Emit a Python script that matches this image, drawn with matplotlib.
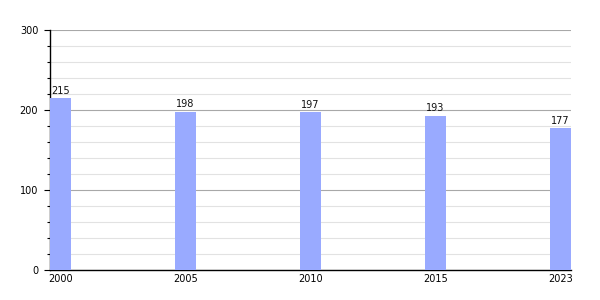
import matplotlib
matplotlib.use("Agg")
import matplotlib.pyplot as plt
import numpy as np

years = ["2000", "2005", "2010", "2015", "2023"]
values = [215, 198, 197, 193, 177]

fig = plt.figure(figsize=(6, 3), dpi=100)
ax = fig.add_axes([50/600, 0.1, 521/600, 0.8])

x = np.arange(len(years))
w = 0.168
bars = ax.bar(x, values, width=w, align="edge", color="#99aaff", zorder=3)
for xi, v in zip(x, values):
    ax.text(xi + w/2, v + 3, str(v), ha="center", va="bottom", fontsize=7, color="#111111", zorder=4)

ax.set_xlim(0, len(years) - 1 + w)
ax.set_ylim(0, 300)
ax.set_xticks(x + w/2)
ax.set_xticklabels(years, fontsize=7)
ax.set_yticks([0, 100, 200, 300])
ax.set_yticks(np.arange(0, 301, 20), minor=True)
ax.tick_params(axis="y", which="major", labelsize=7, length=4.5, width=0.8, direction="out", pad=4)
ax.tick_params(axis="y", which="minor", length=2, width=0.8, direction="out")
ax.tick_params(axis="x", length=0, pad=3)
ax.grid(axis="y", which="major", color="#a8a8a8", linewidth=0.8, zorder=1)
ax.grid(axis="y", which="minor", color="#e2e2e2", linewidth=0.8, zorder=0)
for s in ["top", "right"]:
    ax.spines[s].set_visible(False)
ax.spines["left"].set_linewidth(1.0)
ax.spines["bottom"].set_linewidth(1.0)

fig.savefig("out.png", dpi=100)
